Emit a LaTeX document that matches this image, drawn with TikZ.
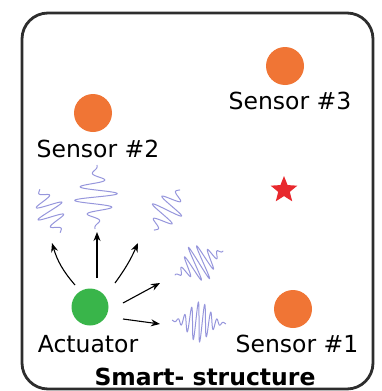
\documentclass[tikz,border=0pt]{standalone}
\usepackage{fontspec}
\setmainfont{DejaVu Sans}
\usetikzlibrary{shapes.geometric,arrows.meta}
\definecolor{sensororange}{RGB}{240,117,53}
\definecolor{actgreen}{RGB}{57,181,74}
\definecolor{starred}{RGB}{232,40,45}
\definecolor{wavecol}{RGB}{150,150,220}
\definecolor{boxcol}{RGB}{45,45,45}
\newcommand\wavepacket[7]{%
  \begin{scope}[shift={(#1,#2)}, rotate=#3]
    \draw[wave] plot[domain=-#7:#7, samples=301, smooth]
      (\x, {#4*exp(-(\x/#5)*(\x/#5))*sin(360*\x/#6)});
  \end{scope}}
\begin{document}
\begin{tikzpicture}[x=1pt,y=-1pt,
  frame/.style={draw=boxcol, line width=2.8pt, rounded corners=26pt},
  sensor/.style={circle, fill=sensororange, minimum size=38pt, inner sep=0pt},
  actuator/.style={circle, fill=actgreen, minimum size=37pt, inner sep=0pt},
  lab/.style={font=\fontsize{23.5}{28}\selectfont, anchor=base, inner sep=0pt},
  boldlab/.style={font=\fontsize{23.5}{28}\selectfont\bfseries, anchor=base, inner sep=0pt},
  wave/.style={draw=wavecol, line width=1pt},
  emit/.style={black, line width=1.1pt, -{Stealth[length=9pt,width=7pt]}},
  target/.style={star, star points=5, star point ratio=2.3, fill=starred, minimum size=28pt, inner sep=0pt}]
\useasboundingbox (0,0) rectangle (381,391);
\draw[frame] (22,13) rectangle (373,389);

\node[sensor] (s3) at (285,66) {};
\node[lab] (l3) at (290,109) {Sensor \#3};
\node[sensor] (s2) at (93,113) {};
\node[lab] (l2) at (98,157) {Sensor \#2};
\node[sensor] (s1) at (293,309) {};
\node[lab] (l1) at (297,352) {Sensor \#1};
\node[actuator] (act) at (90,307) {};
\node[lab] (la) at (88,352) {Actuator};
\node[boldlab] (title) at (205,385) {Smart- structure};
\node[target] (dmg) at (284,190) {};

\wavepacket{50}{211}{115}{15}{16}{12}{24}
\wavepacket{96}{197}{90}{22}{18}{14}{32}
\wavepacket{167}{210}{57}{16}{16}{12}{24}
\wavepacket{199}{263}{28}{19}{15}{8}{27}
\wavepacket{199}{322}{-3}{20}{14}{6.5}{27}

\coordinate (a1s) at (75,285);  \coordinate (a1e) at (52,243);
\coordinate (a2s) at (97,278);  \coordinate (a2e) at (97,232);
\coordinate (a3s) at (115,283); \coordinate (a3e) at (138,243);
\coordinate (a4s) at (123,303); \coordinate (a4e) at (160,283);
\coordinate (a5s) at (123,319); \coordinate (a5e) at (160,324);
\draw[emit] (a1s) to[bend left=12] (a1e);
\draw[emit] (a2s) -- (a2e);
\draw[emit] (a3s) to[bend right=6] (a3e);
\draw[emit] (a4s) -- (a4e);
\draw[emit] (a5s) -- (a5e);
\end{tikzpicture}
\end{document}
